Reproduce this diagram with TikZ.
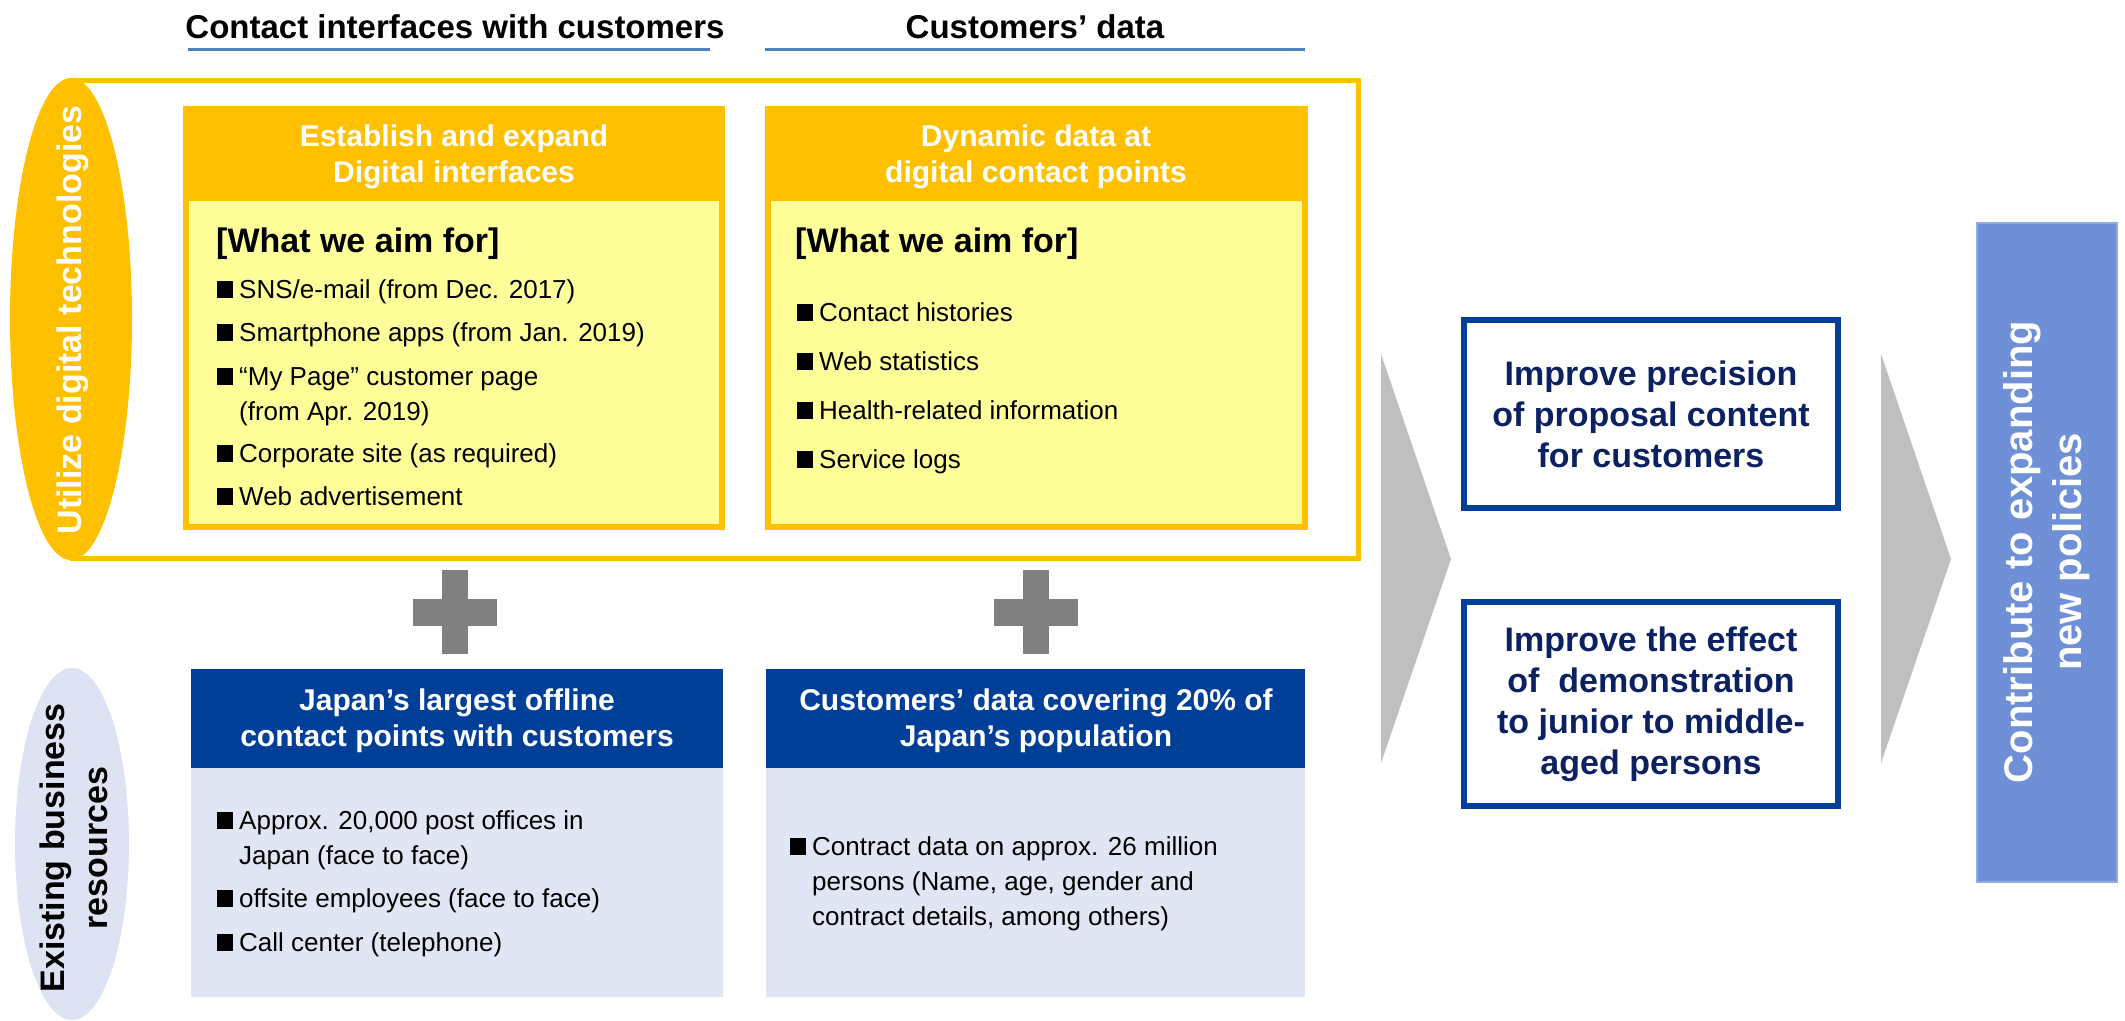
\documentclass[tikz,border=0pt]{standalone}
\usepackage{fontspec}
\setmainfont{Liberation Sans}
\usetikzlibrary{positioning,shapes.geometric}

\definecolor{ygold}{HTML}{FFC000}
\definecolor{ylight}{HTML}{FFFF99}
\definecolor{jpblue}{HTML}{003F98}
\definecolor{jpnavy}{HTML}{0B2161}
\definecolor{paleblue}{HTML}{E1E6F4}
\definecolor{ovalblue}{HTML}{DDE3F3}
\definecolor{plusgray}{HTML}{808080}
\definecolor{arrowgray}{HTML}{BFBFBF}
\definecolor{policyblue}{HTML}{6F90D6}
\definecolor{ulblue}{HTML}{4F81BD}

% black square in front of each list entry, and the hanging indent
\newcommand{\sqbox}{\rule{16pt}{17pt}\hspace{6pt}}
\newcommand{\hangin}{\hspace*{22pt}}

\begin{document}
\begin{tikzpicture}[x=1pt, y=-1pt,
	colhead/.style={font=\fontsize{33}{40}\selectfont\bfseries, inner sep=0},
	boxhead/.style={font=\fontsize{30}{36}\selectfont\bfseries, text=white, align=center, inner sep=0},
	aimhead/.style={font=\fontsize{34}{40}\selectfont\bfseries, anchor=base west, inner sep=0},
	listitem/.style={font=\fontsize{26}{35}\selectfont, anchor=base west, align=left, inner sep=0},
	resultbox/.style={draw=jpblue, line width=6pt, fill=white, text=jpnavy, align=center,
		font=\fontsize{34}{41}\selectfont\bfseries, inner sep=0},
	sidetext/.style={rotate=90, inner sep=0, align=center,
		font=\fontsize{34}{43}\selectfont\bfseries},
	uline/.style={ulblue, line width=3pt}]
	
	\useasboundingbox (0,0) rectangle (2125,1020);
	
	% column headings
	\node[colhead] (headIF) at (455,27) {Contact interfaces with customers};
	\node[colhead] (headData) at (1035,27) {Customers’ data};
	\draw[uline] (188,49) -- (710,49);
	\draw[uline] (765,49) -- (1305,49);
	
	% yellow frame round the digital part
	\draw[ygold, line width=5pt] (72,80) rectangle (1358,558);
	\fill[ygold] (71,319) ellipse [x radius=61, y radius=241];
	\node[sidetext, text=white] (digText) at (73,320) {Utilize digital technologies};
	
	% left: digital interfaces
	\fill[ygold] (183,106) rectangle (725,530);
	\fill[ylight] (189,201) rectangle (719,524);
	\node[boxhead] (ifHead) at (454,157) {Establish and expand\\Digital interfaces};
	\node[aimhead] (ifAim) at (216,252) {[What we aim for]};
	\node[listitem] (ifSns) at (217,298) {\sqbox SNS/e-mail (from Dec. 2017)};
	\node[listitem] (ifApp) at (217,341) {\sqbox Smartphone apps (from Jan. 2019)};
	\node[listitem] (ifPage) at (217,420) {\sqbox “My Page” customer page\\\hangin(from Apr. 2019)};
	\node[listitem] (ifSite) at (217,462) {\sqbox Corporate site (as required)};
	\node[listitem] (ifAdv) at (217,505) {\sqbox Web advertisement};
	
	% right: dynamic data
	\fill[ygold] (765,106) rectangle (1308,530);
	\fill[ylight] (771,201) rectangle (1302,524);
	\node[boxhead] (dynHead) at (1036,157) {Dynamic data at\\digital contact points};
	\node[aimhead] (dynAim) at (795,252) {[What we aim for]};
	\node[listitem] (dynHist) at (797,321) {\sqbox Contact histories};
	\node[listitem] (dynWeb) at (797,370) {\sqbox Web statistics};
	\node[listitem] (dynHealth) at (797,419) {\sqbox Health-related information};
	\node[listitem] (dynLog) at (797,468) {\sqbox Service logs};
	
	% plus signs
	\foreach \px in {455,1036}{
		\fill[plusgray] (\px-42,599) rectangle (\px+42,626);
		\fill[plusgray] (\px-13,570) rectangle (\px+13,654);
	}
	
	% existing business resources
	\fill[ovalblue] (72,844) ellipse [x radius=57, y radius=176];
	\node[sidetext] (resText) at (74,848) {Existing business\\resources};
	
	\fill[paleblue] (191,669) rectangle (723,997);
	\fill[jpblue] (191,669) rectangle (723,768);
	\node[boxhead] (offHead) at (457,721) {Japan’s largest offline\\contact points with customers};
	\node[listitem] (offPost) at (217,864) {\sqbox Approx. 20,000 post offices in\\\hangin Japan (face to face)};
	\node[listitem] (offEmp) at (217,907) {\sqbox offsite employees (face to face)};
	\node[listitem] (offCall) at (217,951) {\sqbox Call center (telephone)};
	
	\fill[paleblue] (766,669) rectangle (1305,997);
	\fill[jpblue] (766,669) rectangle (1305,768);
	\node[boxhead] (cdHead) at (1036,721) {Customers’ data covering 20\% of\\Japan’s population};
	\node[listitem] (cdContract) at (790,925) {\sqbox Contract data on approx. 26 million\\\hangin persons (Name, age, gender and\\\hangin contract details, among others)};
	
	% gray arrow heads
	\foreach \tx in {1381,1881}{
		\fill[arrowgray] (\tx,354) -- (\tx+70,559) -- (\tx,763) -- cycle;
	}
	
	% results
	\node[resultbox, minimum width=374pt, minimum height=188pt] (resPrec) at (1651,414)
		{Improve precision\\of proposal content\\for customers};
	\node[resultbox, minimum width=374pt, minimum height=204pt] (resDemo) at (1651,704)
		{Improve the effect\\of\ \ demonstration\\to junior to middle-\\aged persons};
	
	% final goal
	\node[rotate=90, fill=policyblue, draw=policyblue!75!white, line width=2pt, text=white,
		minimum width=659pt, minimum height=140pt, align=center, inner sep=0,
		font=\fontsize{40}{49}\selectfont\bfseries]
		(policy) at (2047,552) {Contribute to expanding\\new policies};
	
\end{tikzpicture}
\end{document}
